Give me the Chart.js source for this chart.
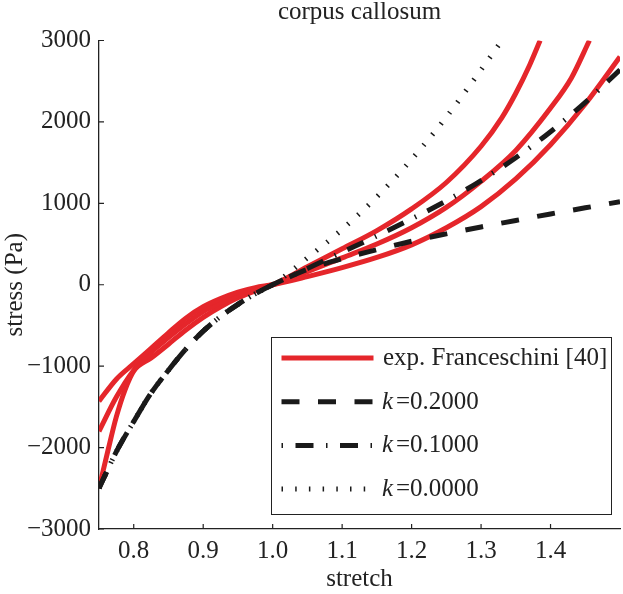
<!DOCTYPE html>
<html>
<head>
<meta charset="utf-8">
<script src="https://cdn.jsdelivr.net/npm/chart.js@4.4.1/dist/chart.umd.min.js"></script>
<style>
  html, body { margin: 0; padding: 0; background: #fff; }
  #wrap { width: 623px; height: 594px; }
</style>
</head>
<body>
<div id="wrap"><canvas id="chart"></canvas></div>
<script>
// axis ticks
const stretchTicks = [0.8, 0.9, 1.0, 1.1, 1.2, 1.3, 1.4];
const stressTicks = [-3000, -2000, -1000, 0, 1000, 2000, 3000];

// experimental curves (Franceschini), compression part
const compStretch = [0.75, 0.775, 0.8, 0.825, 0.85, 0.875, 0.9, 0.925, 0.95, 0.975, 1.0];
const exp1Comp = [-1430, -1160, -970, -780, -590, -410, -270, -170, -90, -35, 0];
const exp2Comp = [-1800, -1380, -1050, -830, -650, -480, -330, -220, -125, -55, 0];
const exp3CompStretch = [0.75, 0.7625, 0.775, 0.7875, 0.8, 0.825, 0.85, 0.875, 0.9, 0.925, 0.95, 0.975, 1.0];
const exp3Comp = [-2500, -2050, -1620, -1290, -1060, -900, -730, -555, -400, -270, -160, -75, 0];

// experimental curves, tension part
const exp1TensStretch = [1.05, 1.1, 1.15, 1.2, 1.25, 1.3, 1.35, 1.4, 1.45, 1.5];
const exp1Tens = [100, 210, 335, 490, 700, 960, 1300, 1720, 2220, 2800];
const exp2TensStretch = [1.05, 1.1, 1.15, 1.2, 1.25, 1.3, 1.35, 1.4, 1.43, 1.456];
const exp2Tens = [160, 330, 500, 700, 950, 1270, 1650, 2170, 2540, 3000];
const exp3TensStretch = [1.05, 1.1, 1.15, 1.2, 1.25, 1.3, 1.33, 1.35, 1.37, 1.385];
const exp3Tens = [220, 442, 665, 932, 1256, 1701, 2053, 2352, 2700, 3000];

// model curves, shared compression part
const modelComp = [-2500, -2050, -1680, -1330, -1050, -790, -570, -390, -240, -110, 0];

// model curves, tension part
const tensStretch = [1.05, 1.1, 1.15, 1.2, 1.25, 1.3, 1.35, 1.4, 1.45, 1.5];
const k02Tens = [190, 320, 430, 535, 625, 710, 790, 870, 945, 1020];
const k01Tens = [200, 400, 600, 810, 1030, 1280, 1560, 1880, 2240, 2640];
const k00TensStretch = [1.05, 1.1, 1.15, 1.2, 1.25, 1.3, 1.33];
const k00Tens = [330, 680, 1080, 1540, 2060, 2640, 3000];

const labels = ['exp. Franceschini [40]', 'k = 0.2000', 'k = 0.1000', 'k = 0.0000'];

const RED = '#e5262b';
const BLACK = '#1a1a1a';
const SERIF = '"Liberation Serif", "Times New Roman", serif';

function pts(xs, ys) {
  return xs.map((x, i) => ({ x: x, y: ys[i] }));
}

function line(label, data, color, dash, order) {
  return {
    label: label,
    data: data,
    borderColor: color,
    borderWidth: 5,
    borderDash: dash,
    borderCapStyle: 'butt',
    pointRadius: 0,
    fill: false,
    cubicInterpolationMode: 'monotone',
    order: order
  };
}

const dashK02 = [18, 18.5];
const dashK01 = [18, 12.5, 1.5, 12.5];
const dashK00 = [1.5, 12.2];

const datasets = [
  line(labels[1], pts(compStretch.concat(tensStretch), modelComp.concat(k02Tens)), BLACK, dashK02, 1),
  line(labels[2], pts(compStretch.concat(tensStretch), modelComp.concat(k01Tens)), BLACK, dashK01, 1),
  line(labels[3], pts(compStretch.concat(k00TensStretch), modelComp.concat(k00Tens)), BLACK, dashK00, 1),
  line(labels[0], pts(compStretch.concat(exp1TensStretch), exp1Comp.concat(exp1Tens)), RED, [], 2),
  line(labels[0], pts(compStretch.concat(exp2TensStretch), exp2Comp.concat(exp2Tens)), RED, [], 2),
  line(labels[0], pts(exp3CompStretch.concat(exp3TensStretch), exp3Comp.concat(exp3Tens)), RED, [], 2)
];

// inward tick marks + boxed legend, drawn by hand like the matlab figure
const extras = {
  id: 'extras',
  afterDraw(chart) {
    const ctx = chart.ctx;
    const xs = chart.scales.x, ys = chart.scales.y;
    const area = chart.chartArea;
    ctx.save();
    ctx.strokeStyle = '#222';
    ctx.lineWidth = 1.2;
    ctx.beginPath();
    stretchTicks.forEach(v => {
      const px = xs.getPixelForValue(v);
      ctx.moveTo(px, area.bottom);
      ctx.lineTo(px, area.bottom - 5);
    });
    stressTicks.forEach(v => {
      const py = ys.getPixelForValue(v);
      ctx.moveTo(area.left, py);
      ctx.lineTo(area.left + 5, py);
    });
    ctx.stroke();

    // legend box
    const bx = 271.5, by = 337.5, bw = 340, bh = 177;
    ctx.fillStyle = '#fff';
    ctx.fillRect(bx, by, bw, bh);
    ctx.strokeStyle = '#222';
    ctx.lineWidth = 1;
    ctx.strokeRect(bx, by, bw, bh);

    const rows = [
      { ds: datasets[3], offset: 0 },
      { ds: datasets[0], offset: 0 },
      { ds: datasets[1], offset: 30.5 },
      { ds: datasets[2], offset: 0 }
    ];
    rows.forEach((r, i) => {
      const ry = 358 + i * 43.7;
      ctx.beginPath();
      ctx.strokeStyle = r.ds.borderColor;
      ctx.lineWidth = r.ds.borderWidth;
      ctx.lineCap = 'butt';
      ctx.setLineDash(r.ds.borderDash);
      ctx.lineDashOffset = r.offset;
      ctx.moveTo(281.5, ry);
      ctx.lineTo(373.5, ry);
      ctx.stroke();
      ctx.setLineDash([]);

      ctx.fillStyle = '#222';
      ctx.textBaseline = 'alphabetic';
      ctx.textAlign = 'left';
      const base = ry + 7;
      const text = r.ds.label;
      if (text.startsWith('k')) {
        const parts = text.split('=');
        ctx.font = 'italic 25px ' + SERIF;
        ctx.fillText(parts[0].trim(), 382, base);
        ctx.font = '25px ' + SERIF;
        ctx.fillText('=', 396, base);
        ctx.fillText(parts[1].trim(), 410, base);
      } else {
        ctx.font = '25px ' + SERIF;
        ctx.fillText(text, 383, base);
      }
    });
    ctx.restore();
  }
};

const tickFont = { family: SERIF, size: 25 };

new Chart(document.getElementById('chart'), {
  type: 'line',
  data: { datasets: datasets },
  options: {
    responsive: true,
    maintainAspectRatio: false,
    animation: false,
    layout: { padding: { left: 0, right: 3, top: 0, bottom: 0 } },
    plugins: {
      legend: { display: false },
      tooltip: { enabled: false },
      title: {
        display: true,
        text: 'corpus callosum',
        fullSize: false,
        color: '#222',
        font: { family: SERIF, size: 25, weight: 'normal', lineHeight: 1.0 },
        padding: { top: 0, bottom: 15.5 }
      }
    },
    scales: {
      x: {
        type: 'linear',
        min: 0.75,
        max: 1.5,
        afterBuildTicks: s => { s.ticks = stretchTicks.map(v => ({ value: v })); },
        afterFit: s => { s.height = 65; },
        grid: { display: false, drawTicks: false },
        border: { display: true, color: '#222', width: 1.3 },
        ticks: {
          color: '#222',
          font: tickFont,
          padding: 7,
          maxRotation: 0,
          autoSkip: false,
          callback: v => v.toFixed(1)
        },
        title: {
          display: true,
          text: 'stretch',
          color: '#222',
          font: { family: SERIF, size: 25, lineHeight: 1.2 },
          padding: 0
        }
      },
      y: {
        min: -3000,
        max: 3000,
        afterBuildTicks: s => { s.ticks = stressTicks.map(v => ({ value: v })); },
        afterFit: s => { s.width = 99; },
        grid: { display: false, drawTicks: false },
        border: { display: true, color: '#222', width: 1.3 },
        ticks: {
          color: '#222',
          font: tickFont,
          padding: 8,
          callback: v => v < 0 ? '\u2212' + Math.abs(v) : String(v)
        },
        title: {
          display: true,
          text: 'stress (Pa)',
          color: '#222',
          font: { family: SERIF, size: 25, lineHeight: 1.2 },
          padding: 0
        }
      }
    }
  },
  plugins: [extras]
});
</script>
</body>
</html>
